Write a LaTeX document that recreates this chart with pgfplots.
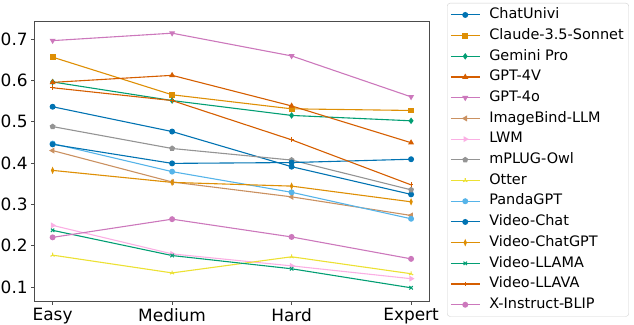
\documentclass[border=0pt]{standalone}
\usepackage{fontspec}
\setmainfont{DejaVu Sans}
\usepackage{pgfplots}
\pgfplotsset{compat=1.18}
\definecolor{c0}{HTML}{0173B2}
\definecolor{c1}{HTML}{DE8F05}
\definecolor{c2}{HTML}{029E73}
\definecolor{c3}{HTML}{D55E00}
\definecolor{c4}{HTML}{CC78BC}
\definecolor{c5}{HTML}{CA9161}
\definecolor{c6}{HTML}{FBAFE4}
\definecolor{c7}{HTML}{949494}
\definecolor{c8}{HTML}{ECE133}
\definecolor{c9}{HTML}{56B4E9}
\begin{document}
\begin{tikzpicture}
\begin{axis}[
 scale only axis, width=394.3bp, height=280.3bp,
 xmin=-0.15, xmax=3.15, ymin=0.0653, ymax=0.7435,
 xtick={0,1,2,3}, xticklabels={Easy,Medium,Hard,Expert},
 ytick={0.1,0.2,0.3,0.4,0.5,0.6,0.7},
 yticklabel style={/pgf/number format/fixed, /pgf/number format/precision=1},
 tick label style={font=\fontsize{17}{20}\selectfont},
 /pgf/number format/assume math mode=true,
 tick align=outside, tick pos=left, major tick length=3.5bp,
 axis line style={draw=black!70, line width=0.8bp},
 every tick/.style={black!70, line width=0.8bp},
 every axis plot/.append style={line width=1.1bp, mark size=2.4bp},
 legend style={at={(1,1)}, anchor=north west, xshift=18bp, yshift=18bp,
   draw=black!18, rounded corners=3bp, inner sep=3bp,
   font=\fontsize{14.5}{16}\selectfont,
   row sep=3.2bp,
   /tikz/every odd column/.append style={column sep=7bp},
   nodes={text height=10.5bp, text depth=3bp, inner sep=2bp},
   cells={anchor=west}},
 legend image code/.code={\draw[mark repeat=2,mark phase=2] plot coordinates {(0bp,0bp) (14.5bp,0bp) (29bp,0bp)};},
]
\coordinate (bl) at (rel axis cs:0,0);
\coordinate (tr) at (rel axis cs:1,1);
\addplot[c0, mark=*] coordinates {(0,0.536) (1,0.476) (2,0.391) (3,0.324)};
\addlegendentry{ChatUnivi}
\addplot[c1, mark=square*] coordinates {(0,0.656) (1,0.565) (2,0.531) (3,0.527)};
\addlegendentry{Claude-3.5-Sonnet}
\addplot[c2, mark=diamond*] coordinates {(0,0.596) (1,0.551) (2,0.515) (3,0.502)};
\addlegendentry{Gemini Pro}
\addplot[c3, mark=triangle*] coordinates {(0,0.595) (1,0.612) (2,0.538) (3,0.449)};
\addlegendentry{GPT-4V}
\addplot[c4, mark=triangle*, mark options={rotate=180}] coordinates {(0,0.696) (1,0.714) (2,0.659) (3,0.560)};
\addlegendentry{GPT-4o}
\addplot[c5, mark=triangle*, mark options={rotate=90}] coordinates {(0,0.430) (1,0.354) (2,0.318) (3,0.273)};
\addlegendentry{ImageBind-LLM}
\addplot[c6, mark=triangle*, mark options={rotate=-90}] coordinates {(0,0.249) (1,0.180) (2,0.151) (3,0.120)};
\addlegendentry{LWM}
\addplot[c7, mark=pentagon*] coordinates {(0,0.488) (1,0.435) (2,0.407) (3,0.335)};
\addlegendentry{mPLUG-Owl}
\addplot[c8, mark=Mercedes star] coordinates {(0,0.177) (1,0.134) (2,0.173) (3,0.132)};
\addlegendentry{Otter}
\addplot[c9, mark=*] coordinates {(0,0.447) (1,0.379) (2,0.329) (3,0.265)};
\addlegendentry{PandaGPT}
\addplot[c0, mark=*] coordinates {(0,0.445) (1,0.399) (2,0.401) (3,0.409)};
\addlegendentry{Video-Chat}
\addplot[c1, mark=diamond*, mark options={xscale=0.6}] coordinates {(0,0.382) (1,0.353) (2,0.344) (3,0.306)};
\addlegendentry{Video-ChatGPT}
\addplot[c2, mark=x] coordinates {(0,0.237) (1,0.176) (2,0.144) (3,0.098)};
\addlegendentry{Video-LLAMA}
\addplot[c3, mark=+] coordinates {(0,0.582) (1,0.551) (2,0.456) (3,0.347)};
\addlegendentry{Video-LLAVA}
\addplot[c4, mark=*] coordinates {(0,0.220) (1,0.264) (2,0.221) (3,0.168)};
\addlegendentry{X-Instruct-BLIP}
\end{axis}
\pgfresetboundingbox
\path[use as bounding box] ([shift={(-34.7bp,-23.7bp)}]bl) rectangle ([shift={(205bp,21bp)}]tr);
\end{tikzpicture}
\end{document}
